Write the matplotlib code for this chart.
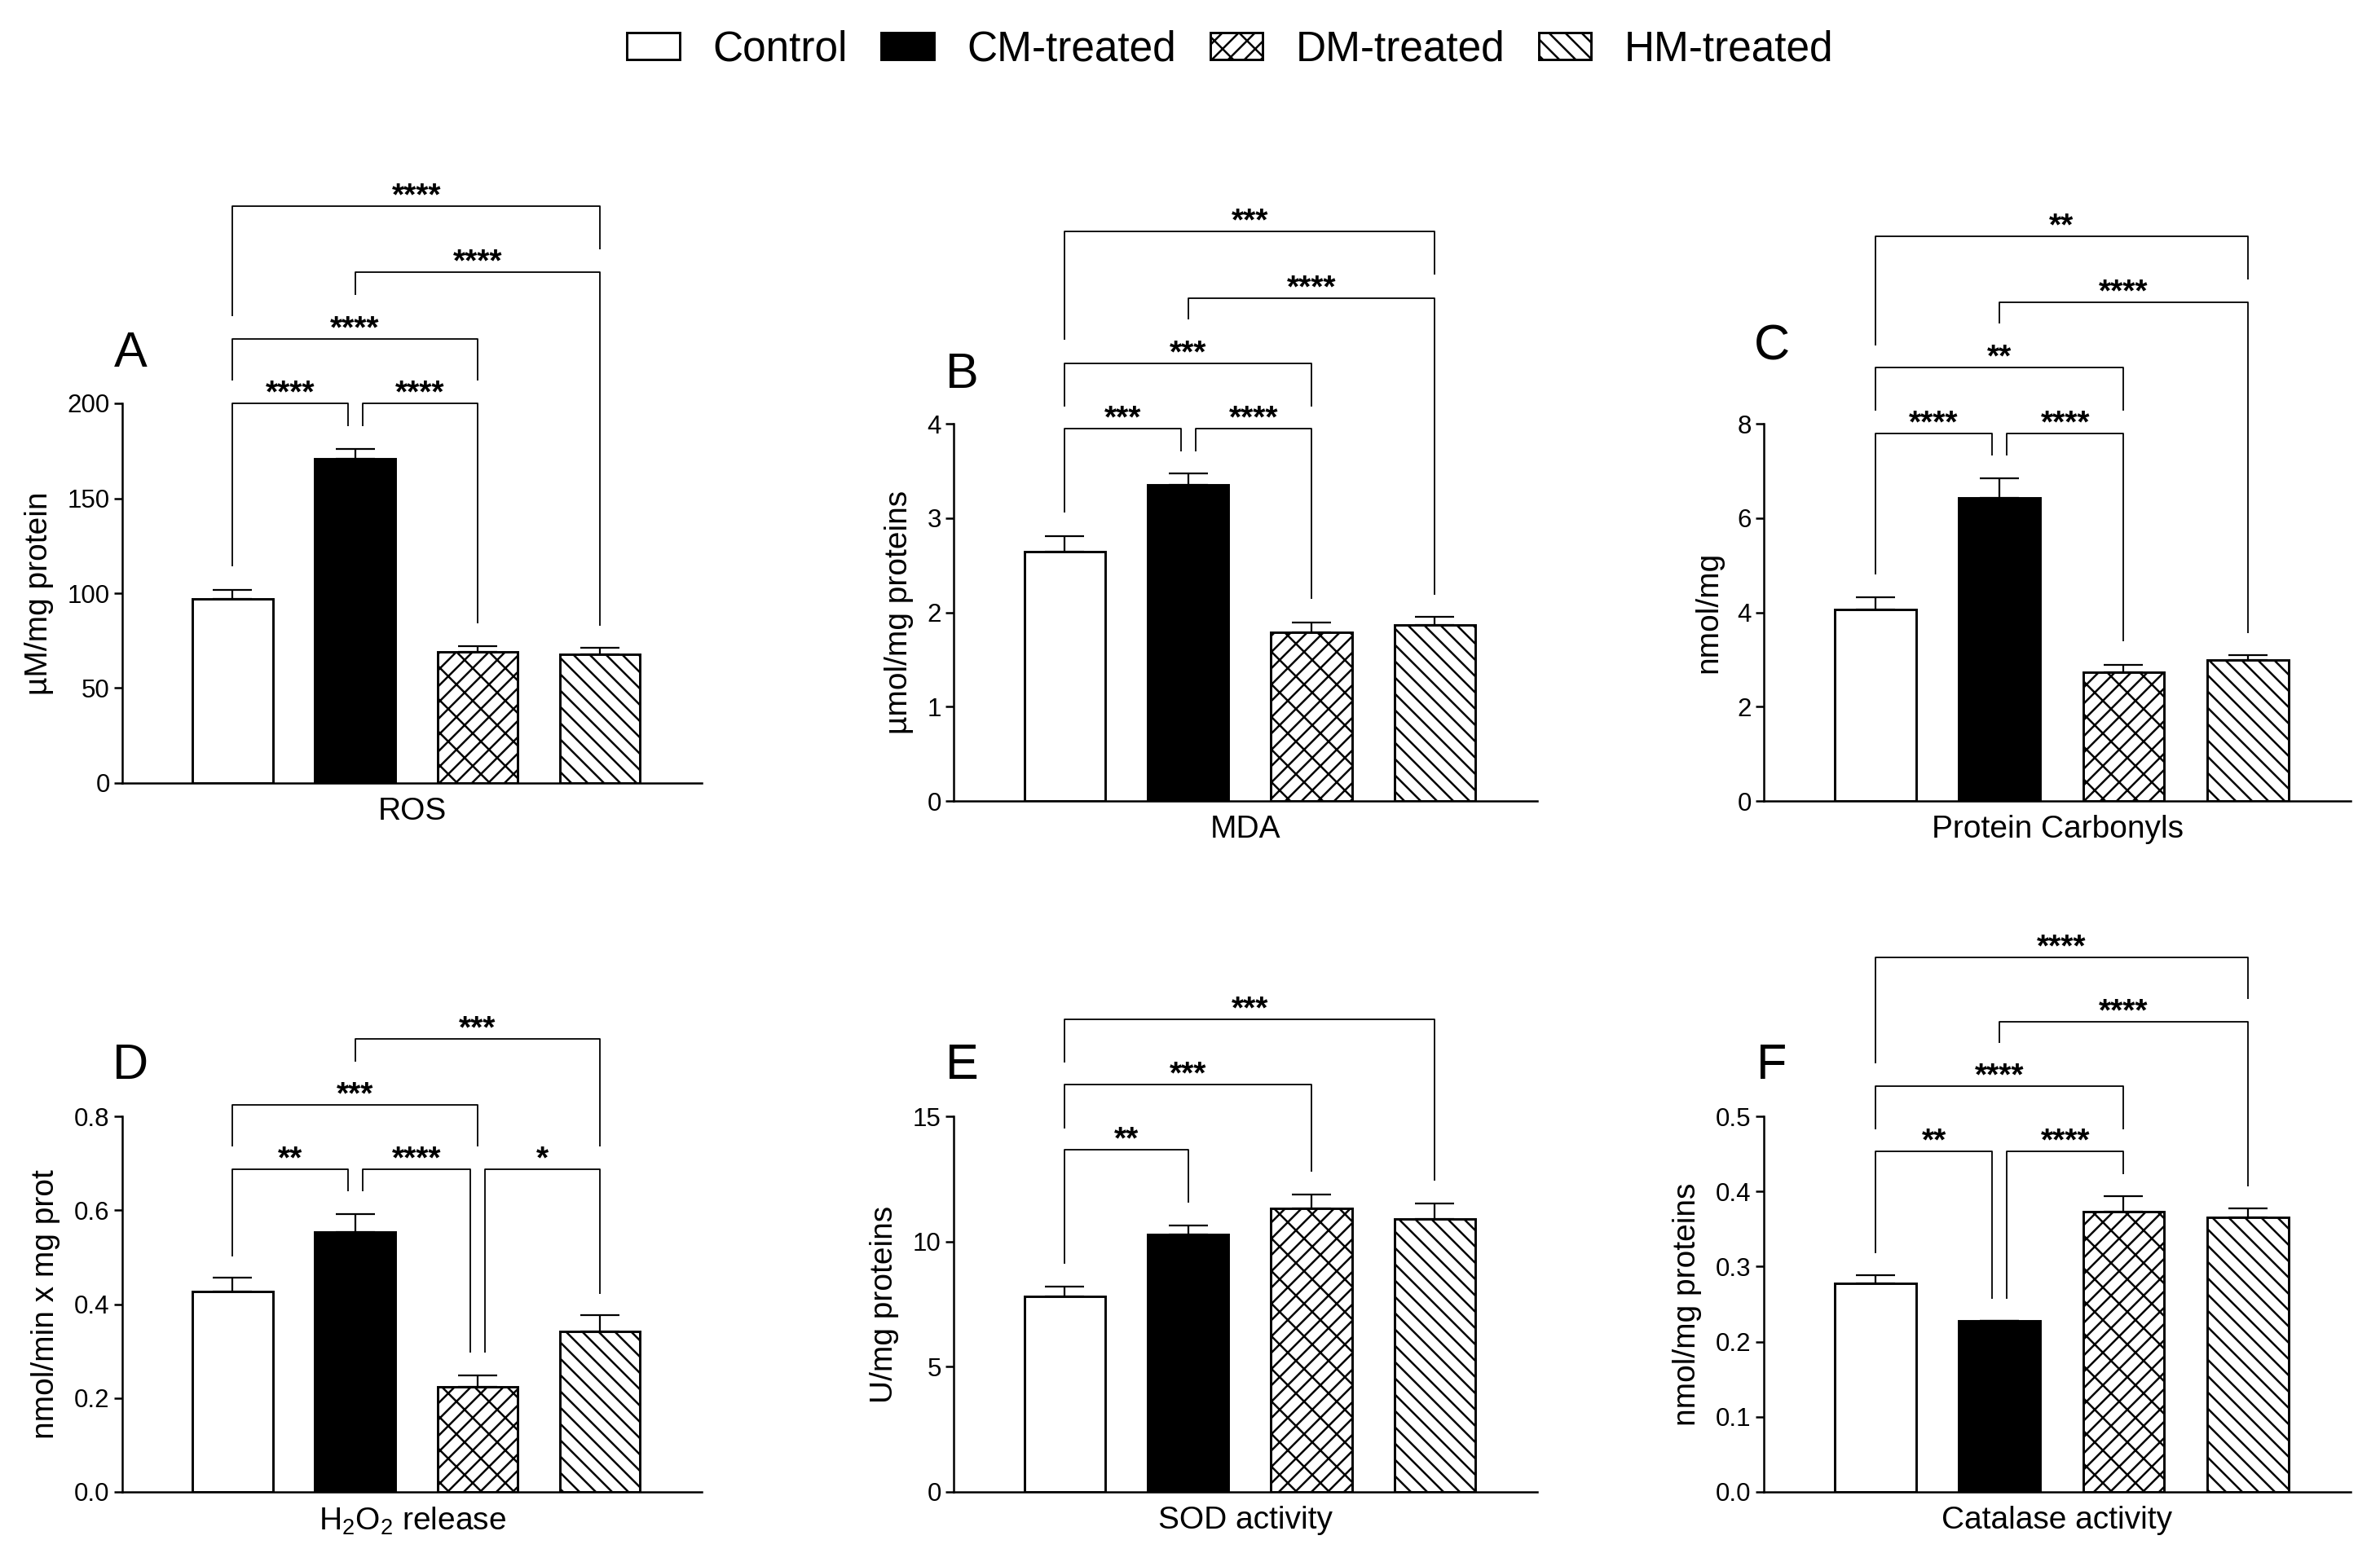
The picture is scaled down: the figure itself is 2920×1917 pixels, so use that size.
import matplotlib.pyplot as plt
from matplotlib.patches import Patch

DPI = 120
K = 100 / DPI  # sizes below were worked out at 100 dpi

plt.rcParams['font.family'] = ['Liberation Sans', 'DejaVu Sans']
plt.rcParams['mathtext.fontset'] = 'custom'
plt.rcParams['mathtext.rm'] = 'Liberation Sans'
plt.rcParams['mathtext.default'] = 'regular'
plt.rcParams['hatch.linewidth'] = 1.8 * K

groups = ['Control', 'CM-treated', 'DM-treated', 'HM-treated']

# mean and SEM
ros = [97, 171, 69, 68]
ros_err = [4.7, 5.0, 3.0, 3.3]
mda = [2.64, 3.35, 1.79, 1.87]
mda_err = [0.17, 0.12, 0.105, 0.08]
carb = [4.06, 6.43, 2.73, 2.99]
carb_err = [0.26, 0.42, 0.16, 0.11]
h2o2 = [0.427, 0.554, 0.224, 0.341]
h2o2_err = [0.029, 0.038, 0.025, 0.035]
sod = [7.82, 10.29, 11.32, 10.91]
sod_err = [0.38, 0.36, 0.56, 0.62]
cat = [0.278, 0.228, 0.373, 0.366]
cat_err = [0.010, 0.0, 0.021, 0.011]

# significance brackets: (group a, group b, bracket y, leg end a, leg end b, stars)
ros_sig = [(0, 1, 200, 114, 188, '****'), (1, 2, 200, 188, 84, '****'),
           (0, 2, 234, 212, 212, '****'), (1, 3, 269, 257, 83, '****'),
           (0, 3, 304, 246, 281, '****')]
mda_sig = [(0, 1, 3.95, 3.06, 3.71, '***'), (1, 2, 3.95, 3.71, 2.14, '****'),
           (0, 2, 4.64, 4.18, 4.18, '***'), (1, 3, 5.33, 5.11, 2.19, '****'),
           (0, 3, 6.04, 4.89, 5.58, '***')]
carb_sig = [(0, 1, 7.80, 4.80, 7.33, '****'), (1, 2, 7.80, 7.33, 3.38, '****'),
            (0, 2, 9.20, 8.27, 8.27, '**'), (1, 3, 10.58, 10.12, 3.56, '****'),
            (0, 3, 11.98, 9.66, 11.05, '**')]
h2o2_sig = [(0, 1, 0.687, 0.502, 0.640, '**'), (1, 2, 0.687, 0.640, 0.296, '****'),
            (2, 3, 0.687, 0.296, 0.422, '*'), (0, 2, 0.825, 0.735, 0.735, '***'),
            (1, 3, 0.965, 0.917, 0.735, '***')]
sod_sig = [(0, 1, 13.68, 9.11, 11.54, '**'), (0, 2, 16.26, 14.52, 12.78, '***'),
           (0, 3, 18.87, 17.14, 12.44, '***')]
cat_sig = [(0, 1, 0.4536, 0.318, 0.2575, '**'), (1, 2, 0.4536, 0.2575, 0.423, '****'),
           (0, 2, 0.540, 0.483, 0.483, '****'), (1, 3, 0.626, 0.598, 0.407, '****'),
           (0, 3, 0.712, 0.570, 0.656, '****')]

faces = ['white', 'black', 'white', 'white']
hatches = ['', '', '//\\', '\\\\']

W, H = 2920, 1917
fig = plt.figure(figsize=(W / DPI, H / DPI), dpi=DPI)

# (letter, xlabel, ylabel, values, errors, brackets, yticks, tick format, axes box in px, letter raise px)
panels = [
    ('A', 'ROS', 'µM/mg protein', ros, ros_err, ros_sig, [0, 50, 100, 150, 200], '%g', (150, 495, 861, 961), 60),
    ('B', 'MDA', 'µmol/mg proteins', mda, mda_err, mda_sig, [0, 1, 2, 3, 4], '%g', (1170, 520, 1886, 983), 60),
    ('C', 'Protein Carbonyls', 'nmol/mg', carb, carb_err, carb_sig, [0, 2, 4, 6, 8], '%g', (2164, 520, 2884, 983), 94),
    ('D', 'H$_2$O$_2$ release', 'nmol/min x mg prot', h2o2, h2o2_err, h2o2_sig,
     [0, 0.2, 0.4, 0.6, 0.8], '%.1f', (150, 1370, 861, 1831), 62),
    ('E', 'SOD activity', 'U/mg proteins', sod, sod_err, sod_sig, [0, 5, 10, 15], '%g', (1170, 1370, 1886, 1831), 62),
    ('F', 'Catalase activity', 'nmol/mg proteins', cat, cat_err, cat_sig,
     [0, 0.1, 0.2, 0.3, 0.4, 0.5], '%.1f', (2164, 1370, 2884, 1831), 62),
]

for letter, xlab, ylab, vals, errs, sig, yt, fmt, box, raise_px in panels:
    x0, y0, x1, y1 = box
    ax = fig.add_axes([x0 / W, 1 - y1 / H, (x1 - x0) / W, (y1 - y0) / H])
    x = list(range(len(vals)))
    bars = ax.bar(x, vals, width=0.655, color=faces, edgecolor='black', linewidth=2.1 * K, zorder=2)
    for b, h in zip(bars, hatches):
        b.set_hatch(h)
    ax.errorbar(x, vals, yerr=[[0] * len(errs), errs], fmt='none', ecolor='black',
                elinewidth=1.6 * K, capsize=17 * K, capthick=1.6 * K, zorder=1)

    for a, b, yb, ya_end, yb_end, stars in sig:
        xa, xb = a, b
        for other in sig:
            if other[2] == yb and other[1] == a:
                xa += 0.06
            if other[2] == yb and other[0] == b:
                xb -= 0.06
        ax.plot([xa, xa, xb, xb], [ya_end, yb, yb, yb_end], color='black', lw=1.3 * K,
                clip_on=False, solid_capstyle='butt')
        ax.annotate(stars, xy=((xa + xb) / 2, yb), xytext=(0, 1.5), textcoords='offset pixels',
                    ha='center', va='baseline', fontsize=28 * K, fontweight='bold',
                    annotation_clip=False)

    ax.set_xlim(-0.9, 3.83)
    ax.set_ylim(0, yt[-1])
    ax.set_yticks(yt)
    ax.set_yticklabels([fmt % v for v in yt])
    ax.set_xticks([])
    for side in ['top', 'right']:
        ax.spines[side].set_visible(False)
    for side in ['left', 'bottom']:
        ax.spines[side].set_linewidth(1.8 * K)
    ax.tick_params(axis='y', length=7 * K, width=1.8 * K, labelsize=22.5 * K, pad=4 * K)
    ax.set_ylabel(ylab, fontsize=28 * K, labelpad=12 * K)
    ax.set_xlabel(xlab, fontsize=28 * K, labelpad=12 * K)
    ax.annotate(letter, xy=(0, 1), xycoords='axes fraction', xytext=(10, raise_px),
                textcoords='offset pixels', ha='center', va='center', fontsize=44 * K)

handles = [Patch(facecolor=f, edgecolor='black', hatch=h, linewidth=2.1 * K) for f, h in zip(faces, hatches)]
fig.legend(handles, groups, loc='center', bbox_to_anchor=(0.517, 0.968), ncol=4, frameon=False,
           fontsize=37 * K, handlelength=1.25, handleheight=0.6, handletextpad=0.8, columnspacing=0.8)

fig.savefig('out.png', dpi=DPI)
